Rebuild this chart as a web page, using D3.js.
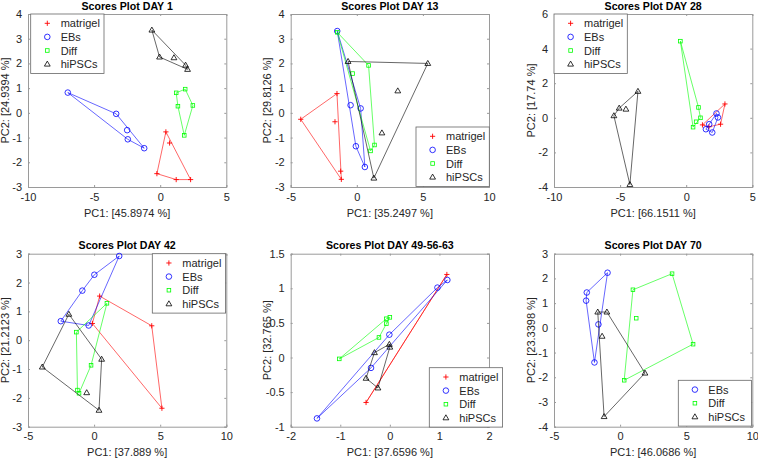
<!DOCTYPE html>
<html>
<head>
<meta charset="utf-8">
<script src="https://cdn.jsdelivr.net/npm/d3@7"></script>
<style>
  body { margin: 0; background: #fff; }
  svg text { font-family: "Liberation Sans", Arial, Helvetica, sans-serif; fill: #262626; }
</style>
</head>
<body>
<script>
// group names + colours (matlab defaults r/b/g/k)
var groups = ["matrigel", "EBs", "Diff", "hiPSCs"];
var colors = { matrigel: "#ff0000", EBs: "#0000ff", Diff: "#00ff00", hiPSCs: "#000000" };

// scores, [PC1, PC2]
var day1Matrigel = [[0.43, -0.77], [0.71, -1.22], [-0.25, -2.46], [1.21, -2.70], [2.30, -2.70]];
var day1EBs = [[-6.99, 0.82], [-3.33, -0.04], [-2.50, -0.70], [-2.45, -1.07], [-1.21, -1.43]];
var day1Diff = [[1.21, 0.81], [1.89, 0.96], [1.34, 0.27], [2.47, 0.30], [1.82, -0.91]];
var day1HiPSCs = [[-0.63, 3.35], [-0.05, 2.26], [1.04, 2.23], [1.92, 1.93], [2.07, 1.76]];

var day13Matrigel = [[-1.50, 0.78], [-4.24, -0.26], [-1.65, -0.36], [-1.22, -2.36], [-1.17, -2.69]];
var day13EBs = [[-1.48, 3.31], [-0.47, 0.31], [0.29, 0.18], [-0.07, -1.35], [0.61, -2.19]];
var day13Diff = [[-1.48, 3.26], [-0.32, 1.59], [0.89, 1.92], [1.34, -1.30], [1.04, -1.54]];
var day13HiPSCs = [[-0.66, 2.08], [5.37, 2.00], [3.10, 0.89], [1.90, -0.81], [1.29, -2.64]];

var day28Matrigel = [[2.93, 0.80], [1.23, -0.41], [2.60, -0.37], [1.72, -0.52]];
var day28EBs = [[2.29, 0.25], [2.40, 0.02], [1.74, -0.37], [1.49, -0.66], [1.97, -0.85]];
var day28Diff = [[-0.44, 4.43], [0.93, 0.60], [1.08, 0.00], [0.75, -0.23], [0.52, -0.54]];
var day28HiPSCs = [[-3.65, 1.53], [-5.07, 0.56], [-4.56, 0.50], [-5.47, 0.12], [-4.26, -3.86]];

var day42Matrigel = [[0.42, 1.53], [-0.13, 0.58], [4.36, 0.50], [5.13, -2.36]];
var day42EBs = [[1.90, 2.92], [0.02, 2.27], [-0.89, 1.72], [-2.52, 0.66], [-0.41, 0.51]];
var day42Diff = [[0.97, 1.28], [-1.34, 0.28], [-0.23, -0.87], [-1.26, -1.73], [-1.14, -1.84]];
var day42HiPSCs = [[-1.91, 0.90], [-3.92, -0.93], [0.57, -0.66], [-0.56, -1.82], [0.37, -2.43]];

var day49Matrigel = [[1.15, 1.20], [-0.48, -0.65]];
var day49EBs = [[-1.47, -0.88], [0.96, 1.01], [1.16, 1.12], [-0.01, 0.33], [-0.38, -0.15]];
var day49Diff = [[-1.02, -0.02], [-0.22, 0.29], [-0.07, 0.49], [-0.07, 0.56], [0.00, 0.58]];
var day49HiPSCs = [[-0.31, 0.07], [-0.01, 0.19], [0.00, 0.15], [-0.48, -0.30], [-0.24, -0.44]];

var day70EBs = [[-0.95, 2.23], [-2.52, 1.43], [-2.57, 1.10], [-1.64, 0.14], [-1.94, -1.40]];
var day70Diff = [[0.97, 1.54], [3.93, 2.19], [1.22, 0.39], [5.52, -0.66], [0.31, -2.12]];
var day70HiPSCs = [[-1.69, 0.64], [-1.00, 0.64], [-1.36, -0.34], [1.88, -1.83], [-1.21, -3.59]];

// titles, axis labels, ticks
var titles = ["Scores Plot DAY 1", "Scores Plot DAY 13", "Scores Plot DAY 28",
              "Scores Plot DAY 42", "Scores Plot DAY 49-56-63", "Scores Plot DAY 70"];
var xLabels = ["PC1: [45.8974 %]", "PC1: [35.2497 %]", "PC1: [66.1511 %]",
               "PC1: [37.889 %]", "PC1: [37.6596 %]", "PC1: [46.0686 %]"];
var yLabels = ["PC2: [24.9394 %]", "PC2: [29.8126 %]", "PC2: [17.74 %]",
               "PC2: [21.2123 %]", "PC2: [32.765 %]", "PC2: [23.3398 %]"];
var xTicks = [[-10, -5, 0, 5], [-5, 0, 5, 10], [-10, -5, 0, 5],
              [-5, 0, 5, 10], [-2, -1, 0, 1, 2], [-5, 0, 5, 10]];
var yTicks = [[-3, -2, -1, 0, 1, 2, 3, 4], [-3, -2, -1, 0, 1, 2, 3, 4], [-4, -2, 0, 2, 4, 6],
              [-3, -2, -1, 0, 1, 2, 3], [-1, -0.5, 0, 0.5, 1, 1.5], [-4, -3, -2, -1, 0, 1, 2, 3]];

var panelData = [
    { matrigel: day1Matrigel, EBs: day1EBs, Diff: day1Diff, hiPSCs: day1HiPSCs },
    { matrigel: day13Matrigel, EBs: day13EBs, Diff: day13Diff, hiPSCs: day13HiPSCs },
    { matrigel: day28Matrigel, EBs: day28EBs, Diff: day28Diff, hiPSCs: day28HiPSCs },
    { matrigel: day42Matrigel, EBs: day42EBs, Diff: day42Diff, hiPSCs: day42HiPSCs },
    { matrigel: day49Matrigel, EBs: day49EBs, Diff: day49Diff, hiPSCs: day49HiPSCs },
    { EBs: day70EBs, Diff: day70Diff, hiPSCs: day70HiPSCs }
];

// axes placement and legend offset (inside each axes)
var lefts = [28, 290.7, 554], tops = [14, 253.7];
var w = 198.3, h = 173;
var legendPos = [[2.7, 0], [125.3, 113], [0, 0], [124.3, 0], [138.6, 114], [124.3, 126.6]];

// plain hyphen minus like matlab
var fmt = function(d) { return String(d); };

var svg = d3.select("body").append("svg")
    .attr("width", 758)
    .attr("height", 459);

// marker shapes
function drawMarker(g, name, cx, cy) {
    var c = colors[name];
    if (name === "matrigel") {
        g.append("path").attr("d", "M" + (cx - 2.6) + "," + cy + "H" + (cx + 2.6) + "M" + cx + "," + (cy - 2.6) + "V" + (cy + 2.6))
            .attr("stroke", c).attr("stroke-width", 0.9).attr("fill", "none");
    } else if (name === "EBs") {
        g.append("circle").attr("cx", cx).attr("cy", cy).attr("r", 2.8)
            .attr("stroke", c).attr("stroke-width", 0.8).attr("fill", "none");
    } else if (name === "Diff") {
        g.append("rect").attr("x", cx - 1.8).attr("y", cy - 1.8).attr("width", 3.6).attr("height", 3.6)
            .attr("stroke", c).attr("stroke-width", 0.8).attr("fill", "none");
    } else {
        g.append("path").attr("d", "M" + cx + "," + (cy - 3) + "L" + (cx + 2.9) + "," + (cy + 2) + "L" + (cx - 2.9) + "," + (cy + 2) + "Z")
            .attr("stroke", c).attr("stroke-width", 0.8).attr("fill", "none");
    }
}

panelData.forEach(function(data, i) {
    var col = i % 3, row = Math.floor(i / 3);
    var xt = xTicks[i], yt = yTicks[i];

    var x = d3.scaleLinear().domain([xt[0], xt[xt.length - 1]]).range([0, w]);
    var y = d3.scaleLinear().domain([yt[0], yt[yt.length - 1]]).range([h, 0]);

    var g = svg.append("g")
        .attr("transform", "translate(" + lefts[col] + "," + tops[row] + ")");

    // axes: ticks inside, box on all sides
    g.append("g").attr("transform", "translate(0," + h + ")")
        .call(d3.axisBottom(x).tickValues(xt).tickSize(-2).tickPadding(6).tickFormat(fmt));
    g.append("g")
        .call(d3.axisTop(x).tickValues(xt).tickSize(-2).tickFormat(""));
    g.append("g")
        .call(d3.axisLeft(y).tickValues(yt).tickSize(-2).tickPadding(6).tickFormat(fmt));
    g.append("g").attr("transform", "translate(" + w + ",0)")
        .call(d3.axisRight(y).tickValues(yt).tickSize(-2).tickFormat(""));

    g.selectAll(".domain").attr("stroke", "#9a9a9a").attr("stroke-width", 1);
    g.selectAll(".tick line").attr("stroke", "#9a9a9a");
    g.selectAll(".tick text").attr("font-size", 11).attr("fill", "#333");

    // title + labels
    g.append("text")
        .attr("x", w / 2).attr("y", -4.5)
        .attr("text-anchor", "middle")
        .attr("font-size", 10.6).attr("font-weight", "bold")
        .style("fill", "#000")
        .text(titles[i]);
    g.append("text")
        .attr("x", w / 2).attr("y", h + 29.5)
        .attr("text-anchor", "middle")
        .attr("font-size", 11)
        .text(xLabels[i]);
    g.append("text")
        .attr("transform", "translate(-19.5," + (h / 2) + ") rotate(-90)")
        .attr("text-anchor", "middle")
        .attr("font-size", 11)
        .text(yLabels[i]);

    // hulls then markers, one group at a time
    var names = groups.filter(function(n) { return data[n]; });
    names.forEach(function(n) {
        var pts = data[n].map(function(d) { return [x(d[0]), y(d[1])]; });
        var hull = d3.polygonHull(pts) || pts;
        g.append("path")
            .attr("d", "M" + hull.join("L") + "Z")
            .attr("fill", "none")
            .attr("stroke", colors[n])
            .attr("stroke-width", 0.6);
        pts.forEach(function(p) { drawMarker(g, n, p[0], p[1]); });
    });

    // legend
    var lg = g.append("g")
        .attr("transform", "translate(" + legendPos[i][0] + "," + legendPos[i][1] + ")");
    lg.append("rect")
        .attr("width", 73.3).attr("height", 5 + names.length * 13.6)
        .attr("fill", "#fff").attr("stroke", "#666").attr("stroke-width", 0.8);
    names.forEach(function(n, k) {
        var ly = 9.3 + k * 13.6;
        drawMarker(lg, n, 16.6, ly);
        lg.append("text")
            .attr("x", 30).attr("y", ly + 4)
            .attr("font-size", 11)
            .text(n);
    });
});
</script>
</body>
</html>
